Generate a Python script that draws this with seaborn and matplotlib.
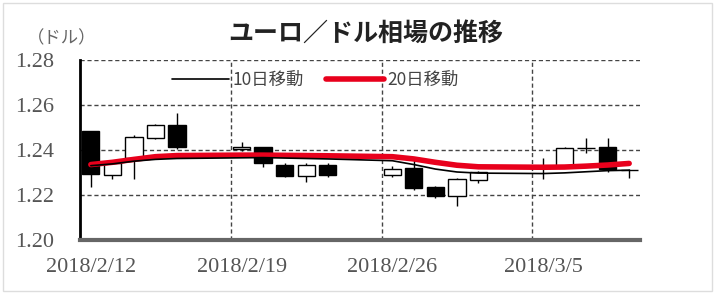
import seaborn as sns
import matplotlib.pyplot as plt
import matplotlib.patches as mpatches
import pandas as pd

# daily EUR/USD candles
dates = ['2018-02-12', '2018-02-13', '2018-02-14', '2018-02-15', '2018-02-16',
         '2018-02-19', '2018-02-20', '2018-02-21', '2018-02-22', '2018-02-23',
         '2018-02-26', '2018-02-27', '2018-02-28', '2018-03-01', '2018-03-02',
         '2018-03-05', '2018-03-06', '2018-03-07', '2018-03-08', '2018-03-09']
opens = [1.2483, 1.2287, 1.2362, 1.2453, 1.2510,
         1.2405, 1.2411, 1.2335, 1.2284, 1.2335,
         1.2287, 1.2320, 1.2235, 1.2194, 1.2265,
         1.2325, 1.2330, 1.2407, 1.2411, 1.2310]
highs = [1.2485, 1.2355, 1.2468, 1.2515, 1.2565,
         1.2435, 1.2415, 1.2343, 1.2343, 1.2340,
         1.2330, 1.2355, 1.2240, 1.2275, 1.2305,
         1.2362, 1.2412, 1.2453, 1.2453, 1.2315]
lows = [1.2235, 1.2269, 1.2272, 1.2450, 1.2405,
        1.2395, 1.2325, 1.2280, 1.2257, 1.2280,
        1.2280, 1.2220, 1.2185, 1.2152, 1.2255,
        1.2270, 1.2325, 1.2385, 1.2300, 1.2275]
closes = [1.2292, 1.2344, 1.2456, 1.2510, 1.2412,
          1.2412, 1.2340, 1.2283, 1.2332, 1.2290,
          1.2317, 1.2232, 1.2194, 1.2269, 1.2302,
          1.2330, 1.2407, 1.2410, 1.2317, 1.2311]
ma10 = [1.2330, 1.2338, 1.2350, 1.2358, 1.2362,
        1.2365, 1.2366, 1.2364, 1.2362, 1.2360,
        1.2352, 1.2335, 1.2315, 1.2302, 1.2297,
        1.2295, 1.2298, 1.2303, 1.2308, 1.2310]
ma20 = [1.2335, 1.2345, 1.2358, 1.2370, 1.2375,
        1.2377, 1.2377, 1.2376, 1.2375, 1.2374,
        1.2370, 1.2360, 1.2345, 1.2332, 1.2325,
        1.2323, 1.2324, 1.2328, 1.2333, 1.2340]

tick_dates = ['2018-02-12', '2018-02-19', '2018-02-26', '2018-03-05']
tick_labels = ['2018/2/12', '2018/2/19', '2018/2/26', '2018/3/5']
yticks = [1.20, 1.22, 1.24, 1.26, 1.28]

start = pd.Timestamp(dates[0])
df = pd.DataFrame({'date': pd.to_datetime(dates), 'open': opens, 'high': highs,
                   'low': lows, 'close': closes, '10日移動': ma10, '20日移動': ma20})
df['x'] = (df['date'] - start).dt.days
tick_x = [(pd.Timestamp(d) - start).days for d in tick_dates]

sns.set_theme(style='white')
plt.rcParams['font.family'] = ['Noto Sans CJK JP', 'DejaVu Sans']

fig = plt.figure(figsize=(7.15, 2.94), dpi=100)
ax = fig.add_axes([0.112, 0.184, 0.783, 0.612])

# candles
ax.vlines(df['x'], df['low'], df['high'], color='black', lw=1, zorder=2)
body_w = 0.8
for _, r in df.iterrows():
    lo, hi = min(r['open'], r['close']), max(r['open'], r['close'])
    h = max(hi - lo, 0.0003)
    fc = 'black' if r['close'] < r['open'] else 'white'
    ax.bar(r['x'], h, bottom=lo, width=body_w, color=fc, edgecolor='black',
           linewidth=1, zorder=3)

# moving averages
sns.lineplot(data=df, x='x', y='20日移動', ax=ax, color='#e8001c', lw=4,
             label='20日移動', zorder=4)
sns.lineplot(data=df, x='x', y='10日移動', ax=ax, color='black', lw=1.2,
             label='10日移動', zorder=5)

ax.set_xlim(-0.5, 25.5)
ax.set_ylim(1.20, 1.28)
ax.set_yticks(yticks)
ax.set_yticklabels([f'{v:.2f}' for v in yticks], fontfamily='Liberation Serif',
                   fontsize=16, color='#555555')
ax.set_xticks(tick_x)
ax.set_xticklabels(tick_labels, fontfamily='Liberation Serif', fontsize=16,
                   color='#555555')
ax.set_xticks([t - 0.5 for t in tick_x[1:]], minor=True)
ax.tick_params(axis='x', which='major', length=0, pad=13)
ax.tick_params(axis='x', which='minor', length=5, direction='inout', color='black')
ax.tick_params(axis='y', length=4, direction='in', color='black', pad=19)
ax.set_xlabel('')
ax.set_ylabel('')

ax.yaxis.grid(True, ls=(0, (3, 2)), color='#444444', lw=1)
ax.xaxis.grid(True, which='minor', ls=(0, (3, 2)), color='#444444', lw=1)
ax.set_axisbelow(True)
for s in ['top', 'right']:
    ax.spines[s].set_visible(False)
ax.spines['left'].set_color('black')
ax.spines['left'].set_linewidth(2)
ax.spines['bottom'].set_color('#666666')
ax.spines['bottom'].set_linewidth(3)

handles, labels = ax.get_legend_handles_labels()
leg = ax.legend(handles[::-1], labels[::-1], loc='center', bbox_to_anchor=(0.42, 0.89),
                ncol=2, frameon=False, fontsize=12.5, handlelength=3.3,
                columnspacing=1.3, handletextpad=0.2)
for t in leg.get_texts():
    t.set_color('#444444')

fig.text(0.512, 0.885, 'ユーロ／ドル相場の推移', ha='center', va='center',
         fontsize=18, fontweight='bold', color='#222222')
fig.text(0.038, 0.87, '（ドル）', ha='left', va='center', fontsize=12.5,
         color='#666666')

fig.patches.append(mpatches.Rectangle((0.004, 0.01), 0.992, 0.98, transform=fig.transFigure,
                                      fill=False, edgecolor='#dddddd', lw=1))

fig.savefig('out.png', dpi=100, facecolor='white')
